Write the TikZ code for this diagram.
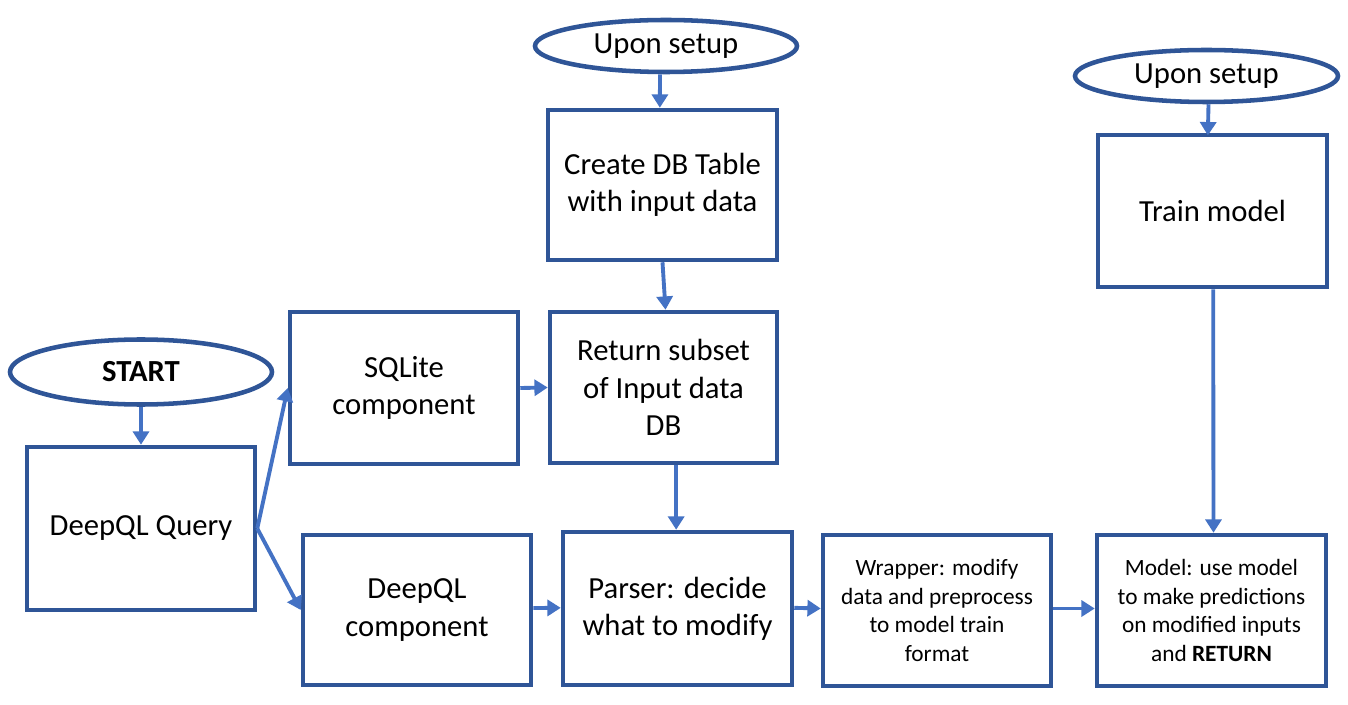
\documentclass[tikz,border=0pt]{standalone}
\usepackage{fontspec}
\setmainfont{Carlito}
\usetikzlibrary{shapes.geometric,arrows.meta}
\definecolor{boxblue}{HTML}{2F5597}
\definecolor{arrblue}{HTML}{4472C4}
\tikzset{
  boxnode/.style={draw=boxblue, line width=3.4pt, fill=white, rectangle, inner sep=0pt,
    align=center, text=black, font=\fontsize{23}{28}\selectfont},
  smallbox/.style={boxnode, font=\fontsize{17.5}{21.6}\selectfont},
  ovalnode/.style={draw=boxblue, line width=3.4pt, fill=white, ellipse, inner sep=0pt,
    align=center, text=black, font=\fontsize{23}{28}\selectfont},
  flow/.style={draw=arrblue, line width=2.9pt, -{Triangle[length=10pt,width=12pt]}},
}
\begin{document}
\begin{tikzpicture}[x=0.75pt,y=-0.75pt]
\useasboundingbox (0,0) rectangle (1348,705);
\fill[white] (0,0) rectangle (1348,705);

\node[ovalnode, minimum width=196.5pt, minimum height=39pt] (up1) at (666,46) {Upon setup};
\node[boxnode, minimum width=171.75pt, minimum height=112.5pt] (create) at (662.5,185) {Create DB Table\\with input data};
\node[boxnode, minimum width=170.25pt, minimum height=113.25pt] (ret) at (663.5,387.5) {Return subset\\of Input data\\DB};
\node[boxnode, minimum width=171pt, minimum height=114pt] (sqlite) at (404,388) {SQLite\\component};
\node[ovalnode, minimum width=196.5pt, minimum height=48.75pt] (start) at (141,372) {\textbf{START}};
\node[boxnode, minimum width=171pt, minimum height=122.25pt] (query) at (141,528.5) {DeepQL Query};
\node[boxnode, minimum width=171pt, minimum height=112.5pt] (dqc) at (417,610) {DeepQL\\component};
\node[boxnode, minimum width=171.75pt, minimum height=114.75pt] (parser) at (677.5,608.5) {Parser: decide\\what to modify};
\node[smallbox, minimum width=171pt, minimum height=113.25pt] (wrapper) at (937,610.5) {Wrapper: modify\\data and preprocess\\to model train\\format};
\node[smallbox, minimum width=171.75pt, minimum height=113.25pt] (model) at (1211.5,610.5) {Model: use model\\to make predictions\\on modified inputs\\and \textbf{RETURN}};
\node[boxnode, minimum width=171.75pt, minimum height=114pt] (train) at (1212.5,211) {Train model};
\node[ovalnode, minimum width=197.25pt, minimum height=39pt] (up2) at (1206.5,76) {Upon setup};

\draw[flow] ([xshift=-4.5pt]up1.south) -- ([xshift=-2pt]create.north);
\draw[flow] (create.south) -- ([xshift=1.5pt]ret.north);
\draw[flow] (sqlite.east) -- (ret.west);
\draw[flow] ([xshift=9.5pt]ret.south) -- ([xshift=-1pt]parser.north);
\draw[flow] (start.south) -- (query.north);
\draw[flow] (query.east) -- (sqlite.west);
\draw[flow] (query.east) -- (dqc.west);
\draw[flow] ([yshift=1.5pt]dqc.east) -- ([yshift=0.5pt]parser.west);
\draw[flow] ([yshift=0.5pt]parser.east) -- ([yshift=1.5pt]wrapper.west);
\draw[flow] ([yshift=1.5pt]wrapper.east) -- ([yshift=1.5pt]model.west);
\draw[flow] ([xshift=1.5pt]up2.south) -- ([xshift=-3.5pt,yshift=-2pt]train.north);
\draw[flow] ([xshift=0.5pt]train.south) -- ([xshift=1.5pt]model.north);
\end{tikzpicture}
\end{document}
